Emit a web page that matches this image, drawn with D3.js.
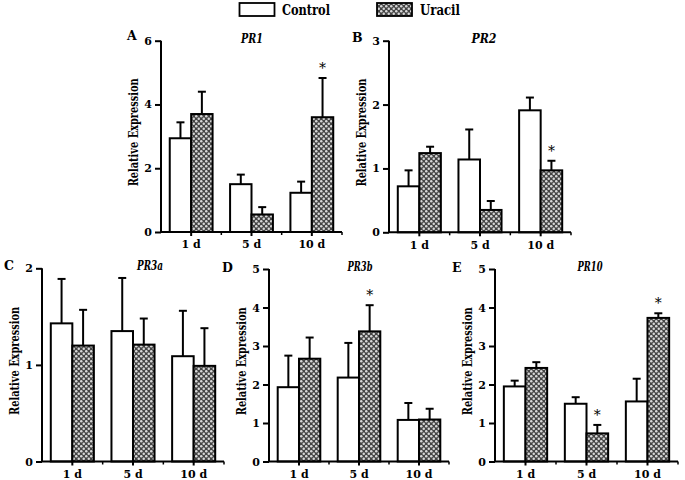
<!DOCTYPE html>
<html><head><meta charset="utf-8">
<script src="https://cdn.jsdelivr.net/npm/d3@7"></script>
<style>
html,body{margin:0;padding:0;background:#fff;}
svg{display:block;}
</style></head>
<body>
<svg id="chart" width="685" height="480"></svg>
<script>
// ---- data ----
const days = ["1 d", "5 d", "10 d"];
const seriesNames = ["Control", "Uracil"];
const genes = ["PR1", "PR2", "PR3a", "PR3b", "PR10"];
const letters = ["A", "B", "C", "D", "E"];
const yMax = [6, 3, 2, 5, 5];
const yTicks = [[0, 2, 4, 6], [0, 1, 2, 3], [0, 1, 2], [0, 1, 2, 3, 4, 5], [0, 1, 2, 3, 4, 5]];

const pr1Control = [2.94, 1.50, 1.23];
const pr1ControlErr = [0.50, 0.30, 0.35];
const pr1Uracil = [3.70, 0.55, 3.60];
const pr1UracilErr = [0.70, 0.23, 1.23];
const pr1Sig = [false, false, true];

const pr2Control = [0.72, 1.14, 1.91];
const pr2ControlErr = [0.25, 0.47, 0.20];
const pr2Uracil = [1.24, 0.35, 0.97];
const pr2UracilErr = [0.10, 0.14, 0.15];
const pr2Sig = [false, false, true];

const pr3aControl = [1.43, 1.35, 1.09];
const pr3aControlErr = [0.46, 0.55, 0.47];
const pr3aUracil = [1.20, 1.21, 0.99];
const pr3aUracilErr = [0.37, 0.27, 0.39];
const pr3aSig = [false, false, false];

const pr3bControl = [1.93, 2.18, 1.08];
const pr3bControlErr = [0.82, 0.90, 0.44];
const pr3bUracil = [2.67, 3.38, 1.09];
const pr3bUracilErr = [0.55, 0.68, 0.28];
const pr3bSig = [false, true, false];

const pr10Control = [1.95, 1.50, 1.56];
const pr10ControlErr = [0.15, 0.17, 0.59];
const pr10Uracil = [2.43, 0.73, 3.73];
const pr10UracilErr = [0.15, 0.22, 0.12];
const pr10Sig = [false, true, true];

const controlVals = [pr1Control, pr2Control, pr3aControl, pr3bControl, pr10Control];
const controlErrs = [pr1ControlErr, pr2ControlErr, pr3aControlErr, pr3bControlErr, pr10ControlErr];
const uracilVals = [pr1Uracil, pr2Uracil, pr3aUracil, pr3bUracil, pr10Uracil];
const uracilErrs = [pr1UracilErr, pr2UracilErr, pr3aUracilErr, pr3bUracilErr, pr10UracilErr];
const sigs = [pr1Sig, pr2Sig, pr3aSig, pr3bSig, pr10Sig];

// ---- layout ----
const FONT = "'DejaVu Serif'";
const layout = [
  {x0: 161, x1: 342, yTop: 40.7, yBot: 232, titleX: 252, titleY: 42.7, titleW: 22, letterX: 127, letterY: 40},
  {x0: 389, x1: 571, yTop: 40.7, yBot: 232.3, titleX: 484, titleY: 43, titleW: 25, letterX: 352, letterY: 41.7},
  {x0: 42, x1: 224, yTop: 268.3, yBot: 461.5, titleX: 150, titleY: 270, titleW: 26, letterX: 4, letterY: 270},
  {x0: 269, x1: 449, yTop: 269, yBot: 461.5, titleX: 360, titleY: 271, titleW: 25, letterX: 222, letterY: 271.7},
  {x0: 495, x1: 678, yTop: 269, yBot: 461.5, titleX: 590, titleY: 271, titleW: 25, letterX: 452, letterY: 271.7}
];

const svg = d3.select("#chart");
const defs = svg.append("defs");
const pat = defs.append("pattern").attr("id", "hatch")
  .attr("patternUnits", "userSpaceOnUse").attr("width", 5).attr("height", 5);
pat.append("rect").attr("width", 5).attr("height", 5).attr("fill", "#444");
pat.append("circle").attr("cx", 1.25).attr("cy", 1.25).attr("r", 1.25).attr("fill", "#d8d8d8");
pat.append("circle").attr("cx", 3.75).attr("cy", 3.75).attr("r", 1.25).attr("fill", "#d8d8d8");

const fills = ["#fff", "url(#hatch)"];

function styleText(sel, size, width) {
  sel.attr("font-family", FONT).style("font-family", FONT)
    .attr("font-weight", "bold").style("font-weight", "bold")
    .attr("font-size", size).attr("fill", "#000");
  if (width) sel.attr("textLength", width).attr("lengthAdjust", "spacingAndGlyphs");
  return sel;
}

// legend
const legend = svg.append("g");
const legendW = [48, 40];
[[239.5, 282], [377, 420]].forEach((p, i) => {
  legend.append("rect").attr("x", p[0]).attr("y", 3).attr("width", 35).attr("height", 13)
    .attr("fill", fills[i]).attr("stroke", "#000").attr("stroke-width", 1.8);
  styleText(legend.append("text").attr("x", p[1]).attr("y", 15.3), 15, legendW[i]).text(seriesNames[i]);
});

genes.forEach((gene, gi) => {
  const L = layout[gi];
  const g = svg.append("g");
  const x = d3.scaleBand().domain(days).range([L.x0, L.x1]).paddingInner(0.29).paddingOuter(0.145);
  const xs = d3.scaleBand().domain(seriesNames).range([0, x.bandwidth()]);
  const y = d3.scaleLinear().domain([0, yMax[gi]]).range([L.yBot, L.yTop]);

  const rows = [];
  days.forEach((d, di) => {
    rows.push({day: d, s: 0, v: controlVals[gi][di], e: controlErrs[gi][di], sig: false});
    rows.push({day: d, s: 1, v: uracilVals[gi][di], e: uracilErrs[gi][di], sig: sigs[gi][di]});
  });

  rows.forEach(r => {
    const cx = x(r.day) + xs(seriesNames[r.s]) + xs.bandwidth() / 2;
    g.append("line").attr("x1", cx).attr("x2", cx).attr("y1", y(r.v)).attr("y2", y(r.v + r.e))
      .attr("stroke", "#000").attr("stroke-width", 2);
    g.append("line").attr("x1", cx - 4).attr("x2", cx + 4).attr("y1", y(r.v + r.e)).attr("y2", y(r.v + r.e))
      .attr("stroke", "#000").attr("stroke-width", 2);
    if (r.sig) {
      const t = styleText(g.append("text").attr("x", cx).attr("y", y(r.v + r.e) - 5).attr("text-anchor", "middle"), 14).text("*");
      t.attr("font-weight", "normal").style("font-weight", "normal");
    }
  });

  g.selectAll("rect.bar").data(rows).enter().append("rect").attr("class", "bar")
    .attr("x", r => x(r.day) + xs(seriesNames[r.s]))
    .attr("y", r => y(r.v))
    .attr("width", xs.bandwidth())
    .attr("height", r => y(0) - y(r.v))
    .attr("fill", r => fills[r.s])
    .attr("stroke", "#000").attr("stroke-width", 2);

  const ya = g.append("g").attr("transform", `translate(${L.x0},0)`)
    .call(d3.axisLeft(y).tickValues(yTicks[gi]).tickFormat(d3.format("d")).tickSize(6).tickPadding(3));
  ya.attr("font-family", FONT);
  ya.select(".domain").attr("stroke-width", 2).attr("d", `M0,${L.yBot}V${L.yTop}`);
  ya.selectAll(".tick line").attr("stroke-width", 2);
  styleText(ya.selectAll(".tick text"), 11);

  const xa = g.append("g").attr("transform", `translate(0,${L.yBot})`)
    .call(d3.axisBottom(x).tickSize(4).tickPadding(4.5));
  xa.attr("font-family", FONT);
  xa.select(".domain").attr("stroke-width", 2).attr("d", `M${L.x0},0H${L.x1}`);
  xa.selectAll(".tick line").attr("stroke-width", 2);
  styleText(xa.selectAll(".tick text"), 11);
  const bounds = days.slice(1).map(d => x(d) - x.step() * x.paddingInner() / 2);
  bounds.push(L.x1);
  xa.selectAll("line.minor").data(bounds).enter().append("line").attr("class", "minor")
    .attr("x1", d => d).attr("x2", d => d).attr("y1", 0).attr("y2", 3)
    .attr("stroke", "#000").attr("stroke-width", 1.5);

  const ly = (L.yTop + L.yBot) / 2 - 4;
  styleText(g.append("text").attr("transform", `translate(${L.x0 - 28},${ly}) rotate(-90)`)
    .attr("text-anchor", "middle").attr("dominant-baseline", "central"), 13, 108).text("Relative Expression");

  styleText(g.append("text").attr("x", L.titleX).attr("y", L.titleY).attr("text-anchor", "middle"), 13, L.titleW)
    .attr("font-style", "italic").style("font-style", "italic").text(gene);
  styleText(g.append("text").attr("x", L.letterX).attr("y", L.letterY), 12.5).text(letters[gi]);
});
</script>
</body></html>
